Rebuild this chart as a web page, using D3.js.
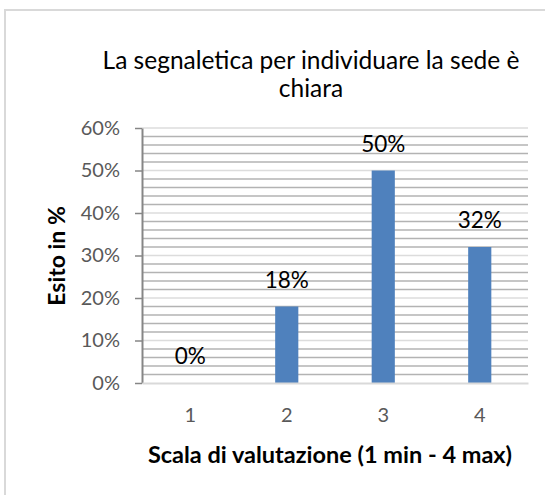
<!DOCTYPE html>
<html>
<head>
<meta charset="utf-8">
<script src="https://cdn.jsdelivr.net/npm/d3@7"></script>
<style>
  body { margin: 0; background: #fff; }
  text { font-family: Lato, "Open Sans", sans-serif; }
  .axis text { font-size: 20px; fill: #595959; }
</style>
</head>
<body>
<div id="chart"></div>
<script>
// Chart data
var categories = ["1", "2", "3", "4"];
var values = [0, 0.18, 0.50, 0.32];
var labels = ["0%", "18%", "50%", "32%"];
var yTicks = [0, 0.1, 0.2, 0.3, 0.4, 0.5, 0.6];
var titleLines = ["La segnaletica per individuare la sede è", "chiara"];
var xTitle = "Scala di valutazione (1 min - 4 max)";
var yTitle = "Esito in %";

// SVG area
var svgWidth = 545;
var svgHeight = 495;

var chartMargin = { top: 128, right: 17, bottom: 112, left: 142 };
var chartWidth = svgWidth - chartMargin.left - chartMargin.right;
var chartHeight = svgHeight - chartMargin.top - chartMargin.bottom;

var svg = d3.select("#chart")
  .append("svg")
  .attr("width", svgWidth)
  .attr("height", svgHeight);

// outer chart border
svg.append("rect")
  .attr("x", 5)
  .attr("y", 10)
  .attr("width", svgWidth)
  .attr("height", svgHeight)
  .attr("fill", "none")
  .attr("stroke", "#d9d9d9")
  .attr("stroke-width", 2);

// title
svg.append("text")
  .attr("text-anchor", "middle")
  .style("font-size", "24.5px")
  .attr("fill", "#000")
  .selectAll("tspan")
  .data(titleLines)
  .enter()
  .append("tspan")
  .attr("x", 311)
  .attr("y", (d, i) => 69 + i * 28)
  .text(d => d);

var chartGroup = svg.append("g")
  .attr("transform", `translate(${chartMargin.left}, ${chartMargin.top})`);

var xBandScale = d3.scaleBand()
  .domain(categories)
  .range([0, chartWidth])
  .paddingInner(0.76)
  .paddingOuter(0.38);

var yLinearScale = d3.scaleLinear()
  .domain([0, 0.6])
  .range([chartHeight, 0]);

// minor gridlines every 2%
var minorTicks = d3.range(0, 61, 2).map(d => d / 100)
  .filter(d => Math.round(d * 100) % 10 !== 0);

chartGroup.append("g")
  .selectAll("line")
  .data(minorTicks)
  .enter()
  .append("line")
  .attr("x1", 0)
  .attr("x2", chartWidth)
  .attr("y1", d => yLinearScale(d))
  .attr("y2", d => yLinearScale(d))
  .attr("stroke", "#b3b3b3")
  .attr("stroke-width", 1.5);

// major gridlines every 10%
chartGroup.append("g")
  .selectAll("line")
  .data(yTicks.slice(1))
  .enter()
  .append("line")
  .attr("x1", 0)
  .attr("x2", chartWidth)
  .attr("y1", d => yLinearScale(d))
  .attr("y2", d => yLinearScale(d))
  .attr("stroke", "#dcdcdc")
  .attr("stroke-width", 1.5);

// bars
chartGroup.selectAll(".bar")
  .data(values)
  .enter()
  .append("rect")
  .attr("class", "bar")
  .attr("x", (d, i) => xBandScale(categories[i]))
  .attr("y", d => yLinearScale(d))
  .attr("width", xBandScale.bandwidth())
  .attr("height", d => chartHeight - yLinearScale(d))
  .attr("fill", "#4f81bd");

// data labels
chartGroup.selectAll(".dlabel")
  .data(values)
  .enter()
  .append("text")
  .attr("class", "dlabel")
  .attr("x", (d, i) => xBandScale(categories[i]) + xBandScale.bandwidth() / 2)
  .attr("y", d => yLinearScale(d) - 19)
  .attr("text-anchor", "middle")
  .style("font-size", "22.5px")
  .attr("fill", "#000")
  .text((d, i) => labels[i]);

// y axis
var leftAxis = d3.axisLeft(yLinearScale)
  .tickValues(yTicks)
  .tickFormat(d3.format(".0%"))
  .tickSizeInner(7)
  .tickSizeOuter(0);

var yAxisG = chartGroup.append("g")
  .attr("class", "axis")
  .call(leftAxis)
  .attr("font-size", 20)
  .attr("font-family", null);
yAxisG.select(".domain").attr("stroke", "#868686").attr("stroke-width", 2);
yAxisG.selectAll(".tick line").attr("stroke", "#868686").attr("stroke-width", 1.5);
yAxisG.selectAll(".tick text").attr("x", -22);

// x axis
var bottomAxis = d3.axisBottom(xBandScale).tickSize(0);
var xAxisG = chartGroup.append("g")
  .attr("class", "axis")
  .attr("transform", `translate(0, ${chartHeight})`)
  .call(bottomAxis)
  .attr("font-size", 20)
  .attr("font-family", null);
xAxisG.select(".domain").attr("stroke", "#d9d9d9").attr("stroke-width", 2);
xAxisG.selectAll(".tick text")
  .attr("y", 25)
  .attr("dy", "0.71em");

// axis titles
svg.append("text")
  .attr("x", 330)
  .attr("y", 463)
  .attr("text-anchor", "middle")
  .style("font-size", "23.5px")
  .attr("font-weight", "bold")
  .attr("fill", "#000")
  .text(xTitle);

svg.append("text")
  .attr("transform", "translate(65, 256) rotate(-90)")
  .attr("text-anchor", "middle")
  .style("font-size", "23px")
  .attr("font-weight", "bold")
  .attr("fill", "#000")
  .text(yTitle);
</script>
</body>
</html>
